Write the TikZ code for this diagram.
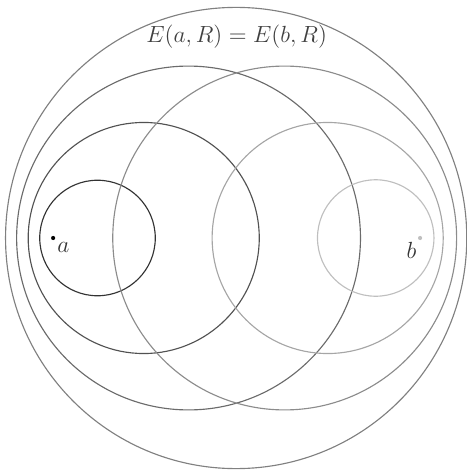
\documentclass[tikz,border=0pt]{standalone}
\usepackage{amsmath}
\usepackage{amssymb}
\usepackage{tikz}
\usetikzlibrary{calc}

\begin{document}
\begin{tikzpicture}[line width=0.7pt]

	\useasboundingbox (-5.11,-5.02) rectangle (4.99,5.15);

	\coordinate (a) at (-3.96,0);
	\coordinate (b) at (3.98,0);

	% circles round a, darkest first
	\draw[black!80] ($(a)+(0.96,0)$) circle (1.25);
	\draw[black!68] ($(a)+(1.96,0)$) circle (2.5);
	\draw[black!58] ($(a)+(2.93,0)$) circle (3.72);

	\draw[black!50] (0,0) circle (4.99);

	% circles round b, lighter
	\draw[black!45] ($(b)-(2.93,0)$) circle (3.72);
	\draw[black!35] ($(b)-(2.0,0)$) circle (2.5);
	\draw[black!25] ($(b)-(0.96,0)$) circle (1.26);

	\fill[black] (a) circle (0.045);
	\fill[black!25] (b) circle (0.045);

	\node[below right, inner sep=2.2pt, font=\fontsize{15}{18}\selectfont, text=black!80] (la) at (a) {$a$};
	\node[below left, inner sep=2pt, font=\fontsize{15}{18}\selectfont, text=black!80] (lb) at (b) {$b$};

	\node[font=\fontsize{15}{18}\selectfont, text=black!75] (title) at (0.01,4.35) {$E(a,R)=E(b,R)$};

\end{tikzpicture}
\end{document}
